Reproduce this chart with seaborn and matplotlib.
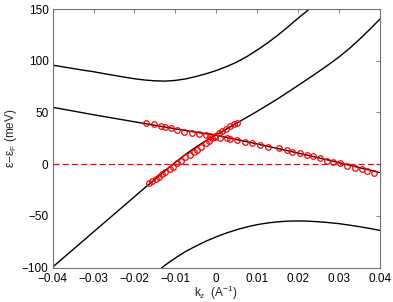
import numpy as np
import pandas as pd
import seaborn as sns
import matplotlib
matplotlib.use('Agg')
import matplotlib.pyplot as plt

'''------------------------------ Data read off the picture ------------------------------'''
# band curves, sampled every 0.0025 A^-1
k_grid = [-0.04, -0.0375, -0.035, -0.0325, -0.03, -0.0275, -0.025, -0.0225, -0.02, -0.0175,
          -0.015, -0.0125, -0.01, -0.0075, -0.005, -0.0025, 0.0, 0.0025, 0.005, 0.0075,
          0.01, 0.0125, 0.015, 0.0175, 0.02, 0.0225, 0.025, 0.0275, 0.03, 0.0325,
          0.035, 0.0375, 0.04]

# upper band (only up to where it leaves the top of the frame)
upper_k = k_grid[:27]
upper_e = [95.8, 94.1, 92.5, 90.9, 89.4, 87.6, 85.9, 84.2, 82.6, 81.4,
           80.6, 80.3, 81.0, 82.4, 84.7, 87.4, 90.5, 94.3, 98.6, 104.0,
           110.3, 117.0, 124.5, 132.5, 141.0, 149.0, 157.5]

# rising band
rising_e = [-99.5, -91.0, -82.5, -74.0, -65.5, -57.0, -48.5, -40.0, -31.5, -23.0,
            -14.7, -6.3, 1.7, 9.4, 16.4, 22.6, 28.4, 34.0, 39.6, 45.3,
            51.0, 57.0, 63.0, 69.5, 76.0, 82.6, 89.3, 96.2, 103.5, 111.5,
            120.5, 130.0, 140.0]

# falling band
falling_e = [55.0, 53.2, 51.4, 49.6, 47.8, 46.1, 44.4, 42.7, 41.0, 39.3,
             37.6, 35.9, 34.2, 32.6, 31.0, 29.5, 28.0, 25.9, 23.8, 21.7,
             19.6, 17.4, 15.2, 13.0, 10.8, 8.5, 6.2, 3.9, 1.5, -0.9,
             -3.3, -5.7, -8.1]

# lower band (enters at the bottom of the frame)
lower_k = k_grid[10:]
lower_e = [-106.0, -97.7, -90.8, -84.5, -79.3, -74.5, -70.3, -66.6, -63.4, -60.7,
           -58.5, -56.9, -55.8, -55.1, -54.9, -55.1, -55.7, -56.5, -57.5, -58.9,
           -60.4, -62.1, -64.0]

# fitted peak positions (red circles)
fit_rise_k = [-0.0164, -0.0156, -0.0148, -0.0140, -0.0132, -0.0124, -0.0113, -0.0105, -0.0095,
              -0.0085, -0.0075, -0.0064, -0.0055, -0.0046, -0.0037, -0.0026, -0.0018, -0.0010,
              -0.0002, 0.0006, 0.0015, 0.0025, 0.0035, 0.0043, 0.0051]
fit_rise_e = [-18.6, -16.3, -14.4, -12.2, -9.6, -7.3, -4.7, -2.5, 1.4,
              3.3, 6.6, 8.8, 11.4, 13.6, 16.8, 20.1, 22.6, 24.9,
              27.2, 29.8, 32.0, 33.9, 36.8, 38.5, 40.0]

fit_fall_k = [-0.0172, -0.0152, -0.0136, -0.0124, -0.0111, -0.0095, -0.0079, -0.0060, -0.0042,
              -0.0026, -0.0014, -0.0002, 0.0010, 0.0027, 0.0035, 0.0051, 0.0071, 0.0088,
              0.0108, 0.0128, 0.0153, 0.0173, 0.0185, 0.0204, 0.0222, 0.0238, 0.0254,
              0.0271, 0.0287, 0.0303, 0.0320, 0.0340, 0.0356, 0.0370, 0.0386]
fit_fall_e = [40.0, 38.5, 36.8, 36.2, 34.6, 33.0, 31.3, 30.4, 29.1,
              28.1, 27.5, 26.5, 25.5, 24.9, 24.3, 23.3, 21.7, 20.7,
              18.5, 16.8, 15.3, 13.6, 11.4, 10.4, 9.1, 7.8, 5.6,
              3.3, 2.3, 0.8, -1.5, -3.5, -5.0, -6.4, -8.3]

x_ticks = [-0.04, -0.03, -0.02, -0.01, 0, 0.01, 0.02, 0.03, 0.04]
x_tick_labels = ['\u22120.04', '\u22120.03', '\u22120.02', '\u22120.01', '0', '0.01', '0.02', '0.03', '0.04']
y_ticks = [-100, -50, 0, 50, 100, 150]
y_tick_labels = ['\u2212100', '\u221250', '0', '50', '100', '150']

'''------------------------------ Build dataframes ------------------------------'''
bands = pd.concat([
  pd.DataFrame({'k': upper_k, 'E': upper_e, 'band': 'upper'}),
  pd.DataFrame({'k': k_grid, 'E': rising_e, 'band': 'rising'}),
  pd.DataFrame({'k': k_grid, 'E': falling_e, 'band': 'falling'}),
  pd.DataFrame({'k': lower_k, 'E': lower_e, 'band': 'lower'}),
], ignore_index=True)

fits = pd.concat([
  pd.DataFrame({'k': fit_rise_k, 'E': fit_rise_e, 'branch': 'rise'}),
  pd.DataFrame({'k': fit_fall_k, 'E': fit_fall_e, 'branch': 'fall'}),
], ignore_index=True)

'''------------------------------ Plot ------------------------------'''
sns.set_style("white")
plt.rcParams['font.family'] = ['Liberation Sans', 'DejaVu Sans']
plt.rcParams['mathtext.fontset'] = 'custom'
plt.rcParams['mathtext.rm'] = 'Liberation Sans'

fig, ax = plt.subplots(figsize=(3.93, 3.02), dpi=100)
plt.subplots_adjust(left=0.134, right=0.966, bottom=0.114, top=0.970)

sns.lineplot(data=bands, x='k', y='E', units='band', estimator=None, sort=False,
             color='black', linewidth=1.0, ax=ax)

ax.axhline(0, color='red', linewidth=0.9, linestyle=(0, (4.8, 2.6)))

sns.lineplot(data=fits, x='k', y='E', units='branch', estimator=None, sort=False,
             linestyle='', marker='o', markersize=4.0, markerfacecolor='none',
             markeredgecolor='red', markeredgewidth=0.9, ax=ax)

ax.set_xlim(-0.04, 0.04)
ax.set_ylim(-100, 150)
ax.set_xticks(x_ticks)
ax.set_xticklabels(x_tick_labels)
ax.set_yticks(y_ticks)
ax.set_yticklabels(y_tick_labels)

ax.tick_params(direction='in', length=3, width=0.6, color='#707070',
               top=True, right=True, labelsize=8.5, labelcolor='black')
ax.tick_params(axis='x', pad=4)
ax.tick_params(axis='y', pad=3)
for s in ax.spines.values():
  s.set_color('#707070')
  s.set_linewidth(0.8)

ax.set_xlabel('k$_\\mathregular{z}$  (A$^\\mathregular{-1}$)', fontsize=8.5)
ax.xaxis.set_label_coords(0.5, -0.062)
ax.set_ylabel('\u03b5\u2212\u03b5$_\\mathregular{F}$ (meV)', fontsize=8.5, labelpad=2)

fig.savefig('out.png', dpi=100)
plt.close(fig)
